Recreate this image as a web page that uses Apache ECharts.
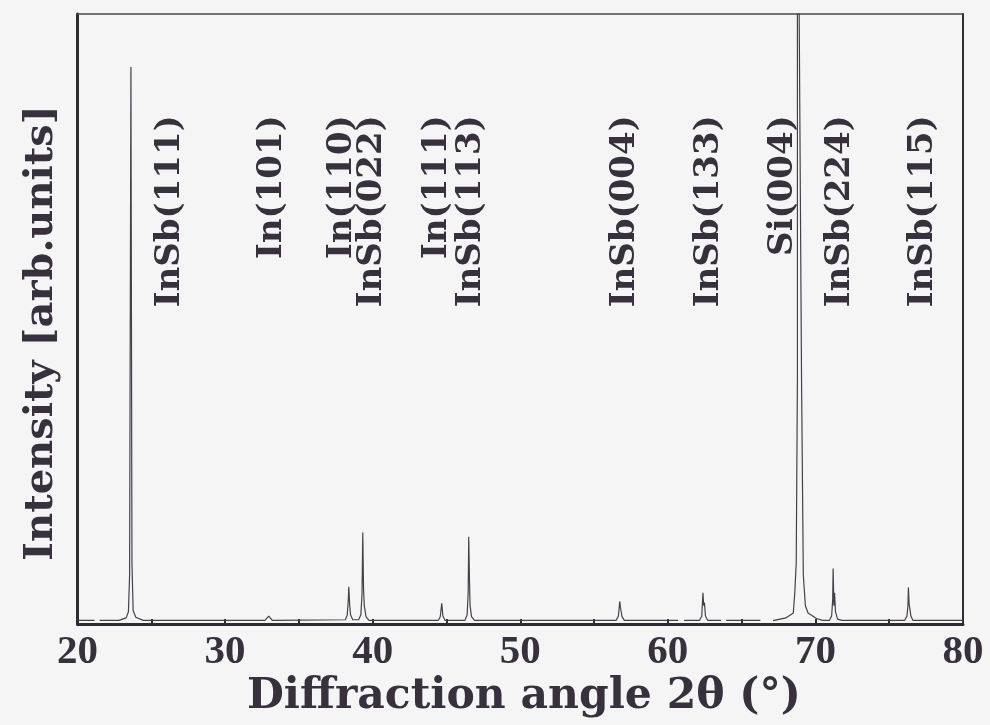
<!DOCTYPE html>
<html>
<head>
<meta charset="utf-8">
<script src="https://cdn.jsdelivr.net/npm/echarts@6/dist/echarts.min.js"></script>
<style>
  html, body { margin: 0; padding: 0; background: #f6f5f5; }
  #chart { width: 990px; height: 725px; }
</style>
</head>
<body>
<div id="chart"></div>
<script>
// XRD scan of an InSb film on Si: [2θ (deg), intensity (arb. units)].
// '-' marks short dropouts in the recorded baseline.
const scan = [
  [20.0, 0.6], [21.15, 0.6], [21.2, '-'], [21.5, 0.6], [22.8, 0.6],
  [23.3, 1.0], [23.45, 2.0], [23.53, 8], [23.62, 91.3], [23.69, 10],
  [23.77, 2.2], [23.95, 1.1], [24.45, 0.6],
  [32.7, 0.6], [32.96, 1.3], [33.2, 0.6],
  [38.15, 0.7], [38.28, 1.5], [38.35, 4], [38.38, 6.1], [38.44, 3.2], [38.5, 1.5], [38.65, 0.7],
  [39.05, 0.7], [39.2, 1.5], [39.28, 5], [39.33, 15.0], [39.38, 6], [39.43, 3], [39.55, 1.2], [39.75, 0.6],
  [44.45, 0.6], [44.58, 1.2], [44.68, 3.4], [44.76, 1.3], [44.9, 0.6],
  [46.25, 0.6], [46.4, 1.5], [46.47, 5], [46.51, 14.3], [46.56, 7], [46.6, 3], [46.7, 1.2], [46.9, 0.6],
  [56.5, 0.6], [56.65, 1.3], [56.74, 3.7], [56.8, 2.5], [56.9, 1.2], [57.05, 0.6],
  [60.7, 0.6], [60.9, '-'], [61.1, 0.6],
  [62.15, 0.6], [62.3, 1.3], [62.38, 5.1], [62.43, 3.0], [62.48, 3.5], [62.55, 1.3], [62.7, 0.6],
  [63.6, 0.6], [63.75, '-'], [63.95, 0.6],
  [66.27, 0.6], [66.7, '-'], [67.13, 0.55],
  [68.0, 1.0], [68.5, 1.8], [68.6, 5], [68.7, 10], [68.78, 40], [68.83, 3000], [68.9, 100],
  [69.06, 40], [69.18, 8], [69.32, 3], [69.5, 1.8], [70.07, 0.9], [70.5, 0.6],
  [70.95, 0.6], [71.1, 1.3], [71.17, 4], [71.2, 9.1], [71.25, 3], [71.3, 5.1], [71.36, 2], [71.5, 0.8], [71.8, 0.6],
  [76.05, 0.6], [76.2, 1.3], [76.27, 3], [76.3, 6.0], [76.35, 3.3], [76.4, 3.6], [76.47, 1.3], [76.6, 0.6],
  [80.0, 0.6]
];

// Reflection assignments and where their labels sit (2θ, intensity at label end).
const peakNames  = ['InSb(111)', 'In(101)', 'In(110)', 'InSb(022)', 'In(111)', 'InSb(113)',
                    'InSb(004)', 'InSb(133)', 'Si(004)', 'InSb(224)', 'InSb(115)'];
const peakAngles = [26.28, 33.2, 37.95, 40.0, 44.4, 46.7, 57.1, 62.8, 67.8, 71.7, 77.3];
const labelTop   = [83.4, 83.4, 83.4, 83.4, 83.4, 83.4, 83.4, 83.4, 83.4, 83.4, 83.4];

const xTicks = [20, 30, 40, 50, 60, 70, 80];

const ink = '#36313c';
const serif = '"DejaVu Serif", serif';

const chart = echarts.init(document.getElementById('chart'), null, { renderer: 'canvas' });

chart.setOption({
  backgroundColor: '#f6f5f5',
  animation: false,
  title: {
    text: 'Diffraction angle 2θ (°)',
    left: 242,
    top: 670,
    textStyle: { fontFamily: serif, fontWeight: 'bold', fontSize: 42.5, color: ink }
  },
  grid: { left: 77.5, right: 27, top: 14, bottom: 101, containLabel: false },
  xAxis: [
    {
      type: 'value', min: 20, max: 80, interval: 5,
      axisLine: { show: true, onZero: false, lineStyle: { color: '#2f2b33', width: 3 } },
      axisTick: { show: true, inside: true, length: 5, lineStyle: { color: '#2f2b33', width: 2 } },
      axisLabel: {
        margin: 8,
        fontFamily: '"Liberation Serif", serif', fontWeight: 'bold', fontSize: 41, color: ink,
        formatter: v => (xTicks.indexOf(v) >= 0 ? String(v) : '')
      },
      splitLine: { show: false }
    },
    {
      type: 'value', position: 'top', min: 20, max: 80,
      axisLine: { show: true, onZero: false, lineStyle: { color: '#4a4650', width: 1.5 } },
      axisTick: { show: false }, axisLabel: { show: false }, splitLine: { show: false }
    }
  ],
  yAxis: [
    {
      type: 'value', min: 0, max: 100,
      name: 'Intensity [arb.units]',
      nameLocation: 'middle', nameRotate: 90, nameGap: 16,
      nameTextStyle: { fontFamily: serif, fontWeight: 'bold', fontSize: 40, color: ink, padding: [0, 28, 0, 0] },
      axisLine: { show: true, onZero: false, lineStyle: { color: '#2f2b33', width: 3 } },
      axisTick: { show: false }, axisLabel: { show: false }, splitLine: { show: false }
    },
    {
      type: 'value', position: 'right', min: 0, max: 100,
      axisLine: { show: true, onZero: false, lineStyle: { color: '#2f2b33', width: 2 } },
      axisTick: { show: false }, axisLabel: { show: false }, splitLine: { show: false }
    }
  ],
  series: [
    {
      type: 'line',
      data: scan,
      showSymbol: false,
      connectNulls: false,
      clip: true,
      lineStyle: { color: '#45414a', width: 1.2 },
      silent: true
    },
    {
      type: 'scatter',
      symbolSize: 0,
      silent: true,
      itemStyle: { opacity: 1, color: ink },
      data: peakAngles.map((a, i) => [a, labelTop[i], peakNames[i]]),
      label: {
        show: true,
        position: 'inside',
        rotate: 90,
        align: 'right',
        verticalAlign: 'middle',
        formatter: p => p.data[2],
        fontFamily: serif, fontWeight: 'bold', fontSize: 34,
        color: ink, opacity: 1, textBorderWidth: 0
      }
    }
  ]
});
</script>
</body>
</html>
